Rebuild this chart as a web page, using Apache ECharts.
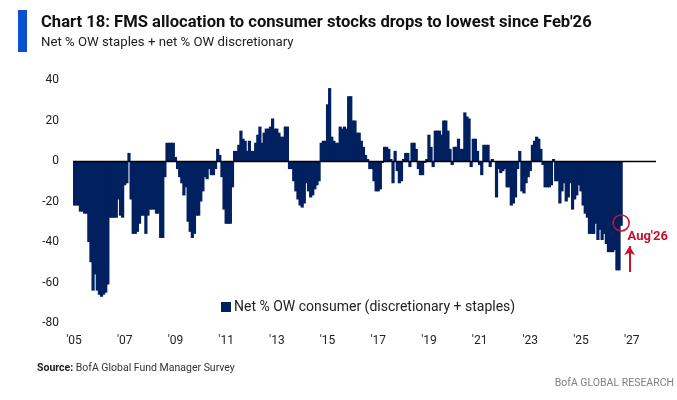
<!DOCTYPE html>
<html><head><meta charset="utf-8">
<script src="https://cdn.jsdelivr.net/npm/echarts@6/dist/echarts.min.js"></script>
<style>html,body{margin:0;padding:0;background:#fff}#c{width:677px;height:400px}</style>
</head><body><div id="c"></div>
<script>
// ---- data ----
const firstYear = 2005;
const lastYear = 2027;
const xTickLabels = ["'05","'07","'09","'11","'13","'15","'17","'19","'21","'23","'25","'27"];
const yMin = -80, yMax = 40, yStep = 20;
const seriesName = 'Net % OW consumer (discretionary + staples)';
// monthly values, Jan 2005 .. Aug 2026
const netOW = [
 -22,-22,-22,-25,-25,-26,-26,-40,-50,-64,-56,-64,
 -66,-67,-66,-65,-61,-28,-28,-28,-28,-19,-27,-28,
 -12,-11,4,-19,-36,-36,-35,-31,-27,-27,-36,-27,
 -24,-24,-24,-26,-26,-38,-38,-8,9,9,9,9,
 2,-4,-8,-11,-17,-13,-30,-35,-38,-36,-27,-27,
 -20,-15,-8,-9,-4,-7,-7,-4,6,3,-8,-24,
 -31,-31,-31,-13,5,5,8,15,11,10,5,10,
 5,5,9,13,17,9,14,16,16,17,21,16,
 16,14,12,12,17,17,-4,-4,-10,-15,-19,-22,
 -23,-21,-11,-15,-18,-17,-14,-12,-10,9,10,10,
 28,36,12,10,9,9,17,16,17,16,32,32,
 20,20,14,14,10,7,3,1,-4,-4,-10,-15,
 -15,-14,-1,7,7,6,1,-11,5,-5,-11,-10,
 1,4,4,-3,9,9,6,-4,-7,-7,-1,1,
 13,7,-3,15,15,15,13,20,20,15,6,-2,
 7,7,11,6,6,24,22,21,-3,11,11,5,
 -2,-7,8,8,8,-3,1,0,-18,-4,-6,-5,
 -4,-13,-13,-22,-21,-18,-4,5,-15,-16,-11,-8,
 -5,8,10,12,11,6,-2,-13,-13,-13,-12,1,
 -10,-10,-21,-15,-11,-20,-18,-11,-24,-19,-17,-12,
 -15,-22,-26,-28,-36,-36,-36,-31,-39,-34,-39,-36,
 -41,-45,-45,-45,-44,-54,-54,-32
];
const annotationText = "Aug'26";

// ---- build ----
const months = [];
for (let y = firstYear; y <= lastYear; y++) for (let m = 1; m <= 12; m++) months.push(y + '-' + m);
const lastIdx = netOW.length - 1;
const NAVY = '#002060', RED = '#c8102e';
const FONT = 'Roboto';

const chart = echarts.init(document.getElementById('c'), null, {renderer: 'canvas'});
chart.setOption({
  animation: false,
  textStyle: {fontFamily: FONT},
  title: {
    text: "Chart 18: FMS allocation to consumer stocks drops to lowest since Feb'26",
    subtext: 'Net % OW staples + net % OW discretionary',
    left: 36, top: 9, itemGap: 5,
    textStyle: {fontFamily: FONT, fontSize: 16.6, fontWeight: 'bold', color: '#111'},
    subtextStyle: {fontFamily: FONT, fontSize: 13.2, color: '#222'}
  },
  graphic: [
    {type: 'rect', shape: {x: 18, y: 10, width: 9, height: 42}, style: {fill: '#0a50d0'}},
    {type: 'text', left: 37, top: 363, style: {
      text: '{b|Source:} BofA Global Fund Manager Survey',
      rich: {b: {fontWeight: 'bold', fontSize: 10.5, fontFamily: FONT, fill: '#222'}},
      fontSize: 10.5, fontFamily: FONT, fill: '#333'}},
    {type: 'text', right: 3, top: 378, style: {
      text: 'BofA GLOBAL RESEARCH', fontSize: 10.5, fontFamily: FONT, fill: '#808080'}}
  ],
  legend: {
    data: [seriesName], left: 216, top: 295, icon: 'rect', itemWidth: 10, itemHeight: 10,
    itemGap: 4, textStyle: {fontSize: 14, color: '#222', fontFamily: FONT, padding: [0,0,0,-2]}
  },
  grid: {left: 73, right: 21, top: 80, bottom: 77, containLabel: false},
  xAxis: {
    type: 'category', data: months,
    axisLine: {show: false}, axisTick: {show: false}, splitLine: {show: false},
    axisLabel: {
      interval: (i) => i % 24 === 0,
      formatter: (v, i) => (i % 24 === 0 ? xTickLabels[i / 24] : ''),
      margin: 12, fontSize: 12, color: '#222', fontFamily: FONT
    }
  },
  yAxis: {
    type: 'value', min: yMin, max: yMax, interval: yStep,
    axisLine: {show: false}, axisTick: {show: false}, splitLine: {show: false},
    axisLabel: {margin: 14, fontSize: 12, color: '#222', fontFamily: FONT}
  },
  series: [{
    name: seriesName, type: 'bar', data: netOW, barWidth: 3.2, barGap: '-100%',
    itemStyle: {color: NAVY},
    markLine: {
      silent: true, symbol: ['none', 'none'], animation: false,
      label: {show: false},
      data: [
        {yAxis: 0, lineStyle: {color: '#000', width: 1.3, type: 'solid'}},
        [
          {coord: [lastIdx + 4, -54.8], symbol: 'none', lineStyle: {color: RED, width: 2, type: 'solid'}},
          {coord: [lastIdx + 4, -42], symbol: 'arrow', symbolSize: [8, 9]}
        ]
      ]
    },
    markPoint: {
      silent: true, animation: false,
      data: [
        {coord: [lastIdx, -30.6], symbol: 'circle', symbolSize: 16,
         itemStyle: {color: 'rgba(0,0,0,0)', borderColor: RED, borderWidth: 1.6}, label: {show: false}},
        {coord: [lastIdx + 3, -37.5], symbol: 'rect', symbolSize: 1,
         itemStyle: {color: 'rgba(0,0,0,0)'},
         label: {show: true, formatter: annotationText, position: 'inside', align: 'left',
                 color: RED, fontWeight: 'bold', fontSize: 13, fontFamily: FONT}}
      ]
    }
  }]
});
</script>
</body></html>
